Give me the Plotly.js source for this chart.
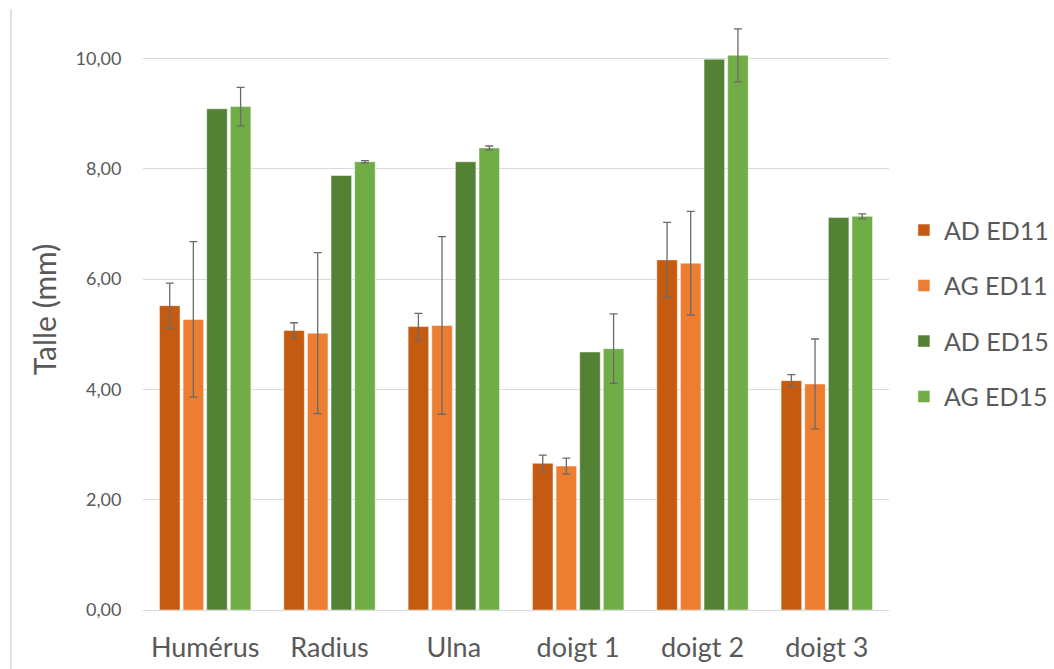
<!DOCTYPE html>
<html>
<head>
<meta charset="utf-8">
<script src="https://cdn.plot.ly/plotly-3.0.1.min.js"></script>
<style>html,body{margin:0;padding:0;background:#fff;}#chart{width:1054px;height:669px;}</style>
</head>
<body>
<div id="chart"></div>
<script>
var categories = ['Humérus', 'Radius', 'Ulna', 'doigt 1', 'doigt 2', 'doigt 3'];
var seriesNames = ['AD ED11', 'AG ED11', 'AD ED15', 'AG ED15'];
var AD_ED11 = [5.52, 5.07, 5.14, 2.66, 6.35, 4.16];
var AD_ED11_err = [0.41, 0.14, 0.24, 0.15, 0.68, 0.11];
var AG_ED11 = [5.27, 5.02, 5.16, 2.61, 6.29, 4.10];
var AG_ED11_err = [1.41, 1.46, 1.61, 0.145, 0.94, 0.815];
var AD_ED15 = [9.09, 7.88, 8.13, 4.68, 9.99, 7.12];
var AG_ED15 = [9.13, 8.13, 8.38, 4.74, 10.06, 7.14];
var AG_ED15_err = [0.35, 0.02, 0.035, 0.63, 0.48, 0.045];
var colors = ['#C55A11', '#ED7D31', '#548235', '#70AD47'];

var values = [AD_ED11, AG_ED11, AD_ED15, AG_ED15];
var errors = [AD_ED11_err, AG_ED11_err, null, AG_ED15_err];

var traces = values.map(function (v, i) {
  var t = {
    type: 'bar',
    name: seriesNames[i],
    x: categories,
    y: v,
    legendgroup: 'g' + i,
    marker: { color: colors[i], line: { color: 'rgba(255,255,255,0.6)', width: 0.8 } },
    hoverinfo: 'x+y+name'
  };
  if (errors[i]) {
    t.error_y = { type: 'data', array: errors[i], visible: true, color: '#6b6b6b', thickness: 1.3, width: 4 };
  }
  return t;
});

var layout = {
  width: 1054,
  height: 669,
  margin: { l: 143, r: 165, t: 9, b: 59, autoexpand: false },
  paper_bgcolor: '#ffffff',
  plot_bgcolor: '#ffffff',
  separators: ', ',
  barmode: 'group',
  bargap: 0.24,
  bargroupgap: 0.13,
  font: { family: 'Lato, "Open Sans", sans-serif', color: '#595959' },
  showlegend: true,
  legend: {
    x: 1.02, xanchor: 'left',
    y: 0.67, yanchor: 'top',
    font: { size: 25, color: '#595959' },
    tracegroupgap: 20,
    itemclick: false
  },
  xaxis: {
    type: 'category',
    showgrid: false,
    showline: true,
    linecolor: '#d9d9d9',
    linewidth: 1,
    ticks: 'outside',
    ticklen: 14,
    tickcolor: 'rgba(0,0,0,0)',
    tickfont: { size: 27, color: '#595959' },
    zeroline: false
  },
  yaxis: {
    range: [0, 10.9],
    dtick: 2,
    tick0: 0,
    tickformat: '.2f',
    showgrid: true,
    gridcolor: '#d9d9d9',
    gridwidth: 1,
    zeroline: false,
    showline: false,
    ticks: 'outside',
    ticklen: 17,
    tickcolor: 'rgba(0,0,0,0)',
    tickfont: { size: 18, color: '#595959' },
    title: { text: 'Talle (mm)', font: { size: 30, color: '#595959' }, standoff: 10 }
  },
  shapes: [{
    type: 'line', xref: 'paper', yref: 'paper',
    x0: -0.177, x1: -0.177, y0: -0.1, y1: 1.0,
    line: { color: '#d9d9d9', width: 1.5 }
  }]
};

Plotly.newPlot('chart', traces, layout, { displayModeBar: false, staticPlot: true });
</script>
</body>
</html>
